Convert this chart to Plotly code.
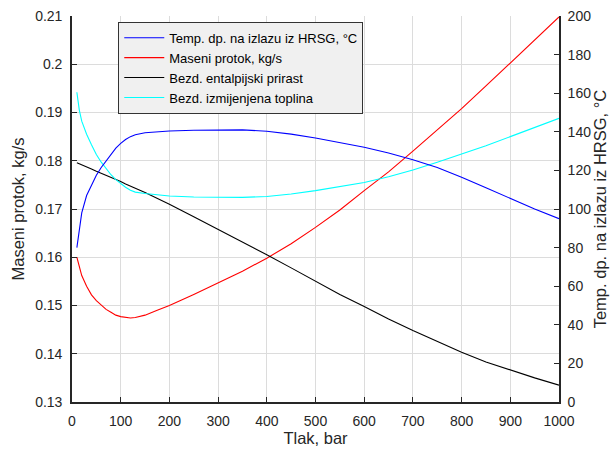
import plotly.graph_objects as go

# Pressure, bar
tlak = [10, 15, 20, 30, 40, 50, 60, 70, 80, 90, 100, 110, 120, 130, 150, 175, 200,
        250, 300, 350, 400, 450, 500, 550, 600, 650, 700, 750, 800, 850, 900, 950, 1000]

# Temperature at HRSG outlet, °C (right axis)
temp_izlaz = [80, 90, 98, 107, 112, 117.5, 121.5, 125, 128.5, 131.5, 134, 136, 137.5, 138.5,
              139.5, 140, 140.4, 140.8, 141, 141, 140.3, 138.8, 136.8, 134.5, 132, 129,
              125.5, 121.5, 116.5, 111, 105.5, 100, 95]

# Mass flow, kg/s (left axis)
maseni_protok = [0.1600, 0.1578, 0.1562, 0.1540, 0.1522, 0.1510, 0.1500, 0.1492, 0.1486,
                 0.1480, 0.1477, 0.1475, 0.1474, 0.1475, 0.1480, 0.1490, 0.1500, 0.1523,
                 0.1547, 0.1571, 0.1598, 0.1628, 0.1662, 0.1698, 0.1738, 0.1777, 0.1820,
                 0.1863, 0.1908, 0.1955, 0.2003, 0.2050, 0.2098]

# Dimensionless enthalpy rise (left axis)
entalpijski_prirast = [0.1796, 0.1794, 0.1792, 0.1787, 0.1783, 0.1778, 0.1774, 0.1770,
                       0.1766, 0.1761, 0.1757, 0.1752, 0.1748, 0.1743, 0.1734, 0.1722,
                       0.1710, 0.1684, 0.1658, 0.1632, 0.1605, 0.1578, 0.1550, 0.1523,
                       0.1498, 0.1472, 0.1448, 0.1425, 0.1403, 0.1383, 0.1366, 0.1350, 0.1335]

# Dimensionless exchanged heat (left axis)
izmijenjena_toplina = [0.1942, 0.1905, 0.1882, 0.1855, 0.1833, 0.1813, 0.1797, 0.1783,
                       0.1771, 0.1761, 0.1752, 0.1745, 0.1739, 0.1735, 0.1732, 0.1729,
                       0.1727, 0.1725, 0.1724, 0.1724, 0.1726, 0.1731, 0.1738, 0.1746,
                       0.1755, 0.1767, 0.1781, 0.1797, 0.1814, 0.1831, 0.1850, 0.1869, 0.1888]

left_ticks = [0.13, 0.14, 0.15, 0.16, 0.17, 0.18, 0.19, 0.2, 0.21]
right_ticks = [0, 20, 40, 60, 80, 100, 120, 140, 160, 180, 200]
x_ticks = [0, 100, 200, 300, 400, 500, 600, 700, 800, 900, 1000]

FONT = "Liberation Sans, Arial, sans-serif"
TXT = "#262626"
TICK_SIZE = 14
TITLE_SIZE = 16.5

fig = go.Figure()
fig.add_trace(go.Scatter(x=tlak, y=temp_izlaz, yaxis="y2", mode="lines",
                         name="Temp. dp. na izlazu iz HRSG, °C",
                         line=dict(color="#0000ff", width=1.1)))
fig.add_trace(go.Scatter(x=tlak, y=maseni_protok, mode="lines",
                         name="Maseni protok, kg/s",
                         line=dict(color="#ff0000", width=1.1)))
fig.add_trace(go.Scatter(x=tlak, y=entalpijski_prirast, mode="lines",
                         name="Bezd. entalpijski prirast",
                         line=dict(color="#000000", width=1.1)))
fig.add_trace(go.Scatter(x=tlak, y=izmijenjena_toplina, mode="lines",
                         name="Bezd. izmijenjena toplina",
                         line=dict(color="#00ffff", width=1.1)))

axis_common = dict(showline=True, linecolor=TXT, linewidth=1.6, ticks="inside",
                   ticklen=5, tickcolor=TXT, tickwidth=1,
                   tickfont=dict(family=FONT, size=TICK_SIZE, color=TXT), zeroline=False)

fig.update_layout(
    width=614, height=449,
    margin=dict(l=72, r=55, t=16, b=47, autoexpand=False),
    paper_bgcolor="white", plot_bgcolor="white",
    font=dict(family=FONT, color=TXT),
    showlegend=True,
    legend=dict(x=0.095, y=0.985, xanchor="left", yanchor="top",
                bgcolor="#f0f0f0", bordercolor="#333333", borderwidth=1,
                font=dict(family=FONT, size=13, color="#000000"),
                itemwidth=40, tracegroupgap=0),
    xaxis=dict(range=[0, 1000], tickvals=x_ticks, showgrid=True, gridcolor="#dcdcdc",
               gridwidth=1, mirror=False, ticklabelstandoff=5,
               title=dict(text="Tlak, bar", font=dict(family=FONT, size=TITLE_SIZE, color=TXT),
                          standoff=3),
               **axis_common),
    yaxis=dict(range=[0.13, 0.21], tickvals=left_ticks, showgrid=True, gridcolor="#dcdcdc",
               gridwidth=1, mirror=False, ticklabelstandoff=5,
               title=dict(text="Maseni protok, kg/s", font=dict(family=FONT, size=TITLE_SIZE, color=TXT),
                          standoff=6),
               **axis_common),
    yaxis2=dict(range=[0, 200], tickvals=right_ticks, overlaying="y", side="right",
                showgrid=False, anchor="x", ticklabelstandoff=4,
                title=dict(text="Temp. dp. na izlazu iz HRSG, °C",
                           font=dict(family=FONT, size=TITLE_SIZE, color=TXT), standoff=4),
                **axis_common),
)

fig.write_html("out.html", config={"displayModeBar": False},
               post_script="document.body.style.margin='0px';document.body.style.overflow='hidden';")
